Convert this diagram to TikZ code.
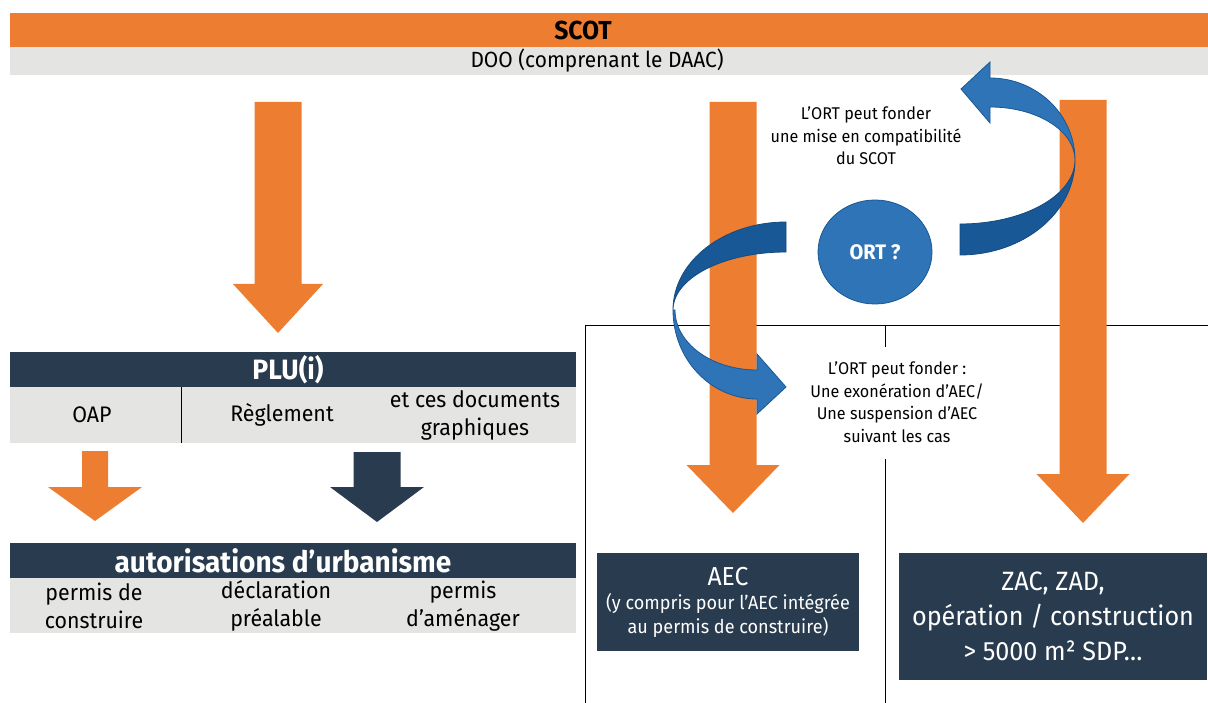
\documentclass[tikz,border=0pt]{standalone}
\usepackage{fontspec}
\setmainfont{Fira Sans}[FakeStretch=0.95]
\usetikzlibrary{shapes.geometric}
\begin{document}
\begin{tikzpicture}[x=1pt,y=-1pt]
	\definecolor{orscot}{RGB}{237,125,49}
	\definecolor{navyplu}{RGB}{41,59,79}
	\definecolor{grisdoc}{RGB}{228,228,227}
	\definecolor{bleuort}{RGB}{46,116,182}
	\definecolor{bleufonce}{RGB}{24,88,150}
	\tikzset{
		bande/.style={inner sep=0, minimum width=566pt, minimum height=35pt, fill=navyplu},
		titre/.style={inner sep=0, text=white, font=\bfseries\fontsize{28}{28}\selectfont},
		rangee/.style={inner sep=0, minimum width=566pt, fill=grisdoc},
		lib/.style={inner sep=0, align=center, font=\fontsize{22.5}{28}\selectfont},
		note/.style={inner sep=0, align=center, font=\fontsize{17}{22.5}\selectfont},
		boite/.style={inner sep=0, fill=navyplu, text=white, align=center},
		bleu/.style={fill=bleuort, draw=bleufonce, line width=0.8pt},
		bleuombre/.style={fill=bleufonce, draw=bleufonce!85!black, line width=0.8pt},
	}
	% fleche pleine : couleur, x milieu, haut, debut pointe, bout, demi fut, demi pointe
	\def\flechebloc#1#2#3#4#5#6#7{\fill[#1] (#2-#6,#3) -- (#2+#6,#3) -- (#2+#6,#4) -- (#2+#7,#4) -- (#2,#5) -- (#2-#7,#4) -- (#2-#6,#4) -- cycle;}
	\useasboundingbox (0,0) rectangle (1208,703);
	% SCOT
	\node[inner sep=0, minimum width=1198pt, minimum height=34pt, fill=orscot] (scotband) at (609,30) {};
	\node[inner sep=0, minimum width=1198pt, minimum height=28pt, fill=grisdoc] (dooband) at (609,61) {};
	\node[inner sep=0, font=\bfseries\fontsize{26}{26}\selectfont] (scot) at (583,30) {SCOT};
	\node[inner sep=0, font=\fontsize{22}{22}\selectfont] (doo) at (597,61) {DOO (comprenant le DAAC)};
	% cadre de droite
	\draw[line width=1pt] (585,703) -- (585,326) -- (1208,326);
	\draw[line width=1pt] (885,326) -- (885,347);
	\draw[line width=1pt] (885,459) -- (885,703);
	% fleches orange et bleu fonce
	\flechebloc{orscot}{278}{102}{284}{333}{23.5}{45}
	\flechebloc{orscot}{733}{102}{465}{513}{23.5}{46.5}
	\flechebloc{orscot}{1083}{100}{474}{523}{23.5}{46.5}
	\flechebloc{orscot}{95}{451}{487}{521}{13}{47}
	\flechebloc{navyplu}{377}{452}{487}{522}{23.5}{47}
	% PLU(i)
	\node[bande] (pluband) at (293,369.5) {};
	\node[titre] (plu) at (288,369.5) {PLU(i)};
	\node[rangee, minimum height=56pt] (plurang) at (293,415) {};
	\draw[line width=1pt] (181,387) -- (181,443);
	\node[lib] (oap) at (92,415) {OAP};
	\node[lib] (reglement) at (282,415) {Règlement};
	\node[lib] (docs) at (475,415) {et ces documents\\graphiques};
	% autorisations
	\node[bande] (autorband) at (293,560.5) {};
	\node[titre, font=\bfseries\fontsize{29.5}{29.5}\selectfont] (autor) at (283,560.5) {autorisations d’urbanisme};
	\node[rangee, minimum height=55pt] (autorang) at (293,605.5) {};
	\node[lib] (pc) at (94,606) {permis de\\construire};
	\node[lib] (dp) at (276,606) {déclaration\\préalable};
	\node[lib] (pa) at (463,606) {permis\\d’aménager};
	% AEC et ZAC
	\node[boite, minimum width=262pt, minimum height=98pt, font=\fontsize{19}{24}\selectfont] (aec) at (728,602) {{\fontsize{26}{26}\selectfont AEC}\\(y compris pour l’AEC intégrée\\au permis de construire)};
	\node[boite, minimum width=308pt, minimum height=127pt, font=\fontsize{26.5}{35}\selectfont] (zac) at (1053,616.5) {ZAC, ZAD,\\opération / construction\\> 5000 m² SDP…};
	% fleche bleue droite
	\draw[bleuombre] (1075,160) arc (0:90:115 and 95) -- (960,224) arc (90:0:115 and 64) -- cycle;
	\draw[bleu] (990,107) -- (990,123) -- (961,89) -- (990,62) -- (990,78) arc (-90:0:85 and 82) arc (0:-90:85 and 53) -- cycle;
	% fleche bleue gauche
	\draw[bleuombre] (786,222) arc (-90:-180:113 and 88) arc (180:270:113 and 58) -- cycle;
	\draw[bleu] (673,310) arc (180:90:84 and 89) -- (757,414) -- (786,387) -- (757,354) -- (757,370) arc (90:180:82 and 60) -- cycle;
	% ORT
	\node[ellipse, bleu, minimum width=114pt, minimum height=104pt, text=white, font=\bfseries\fontsize{21}{21}\selectfont] (ort) at (875,252) {ORT ?};
	\node[note] (ortscot) at (866,136) {L’ORT peut fonder\\une mise en compatibilité\\du SCOT};
	\node[note] (ortaec) at (897,402) {L’ORT peut fonder :\\Une exonération d’AEC/\\Une suspension d’AEC\\suivant les cas};
\end{tikzpicture}
\end{document}
